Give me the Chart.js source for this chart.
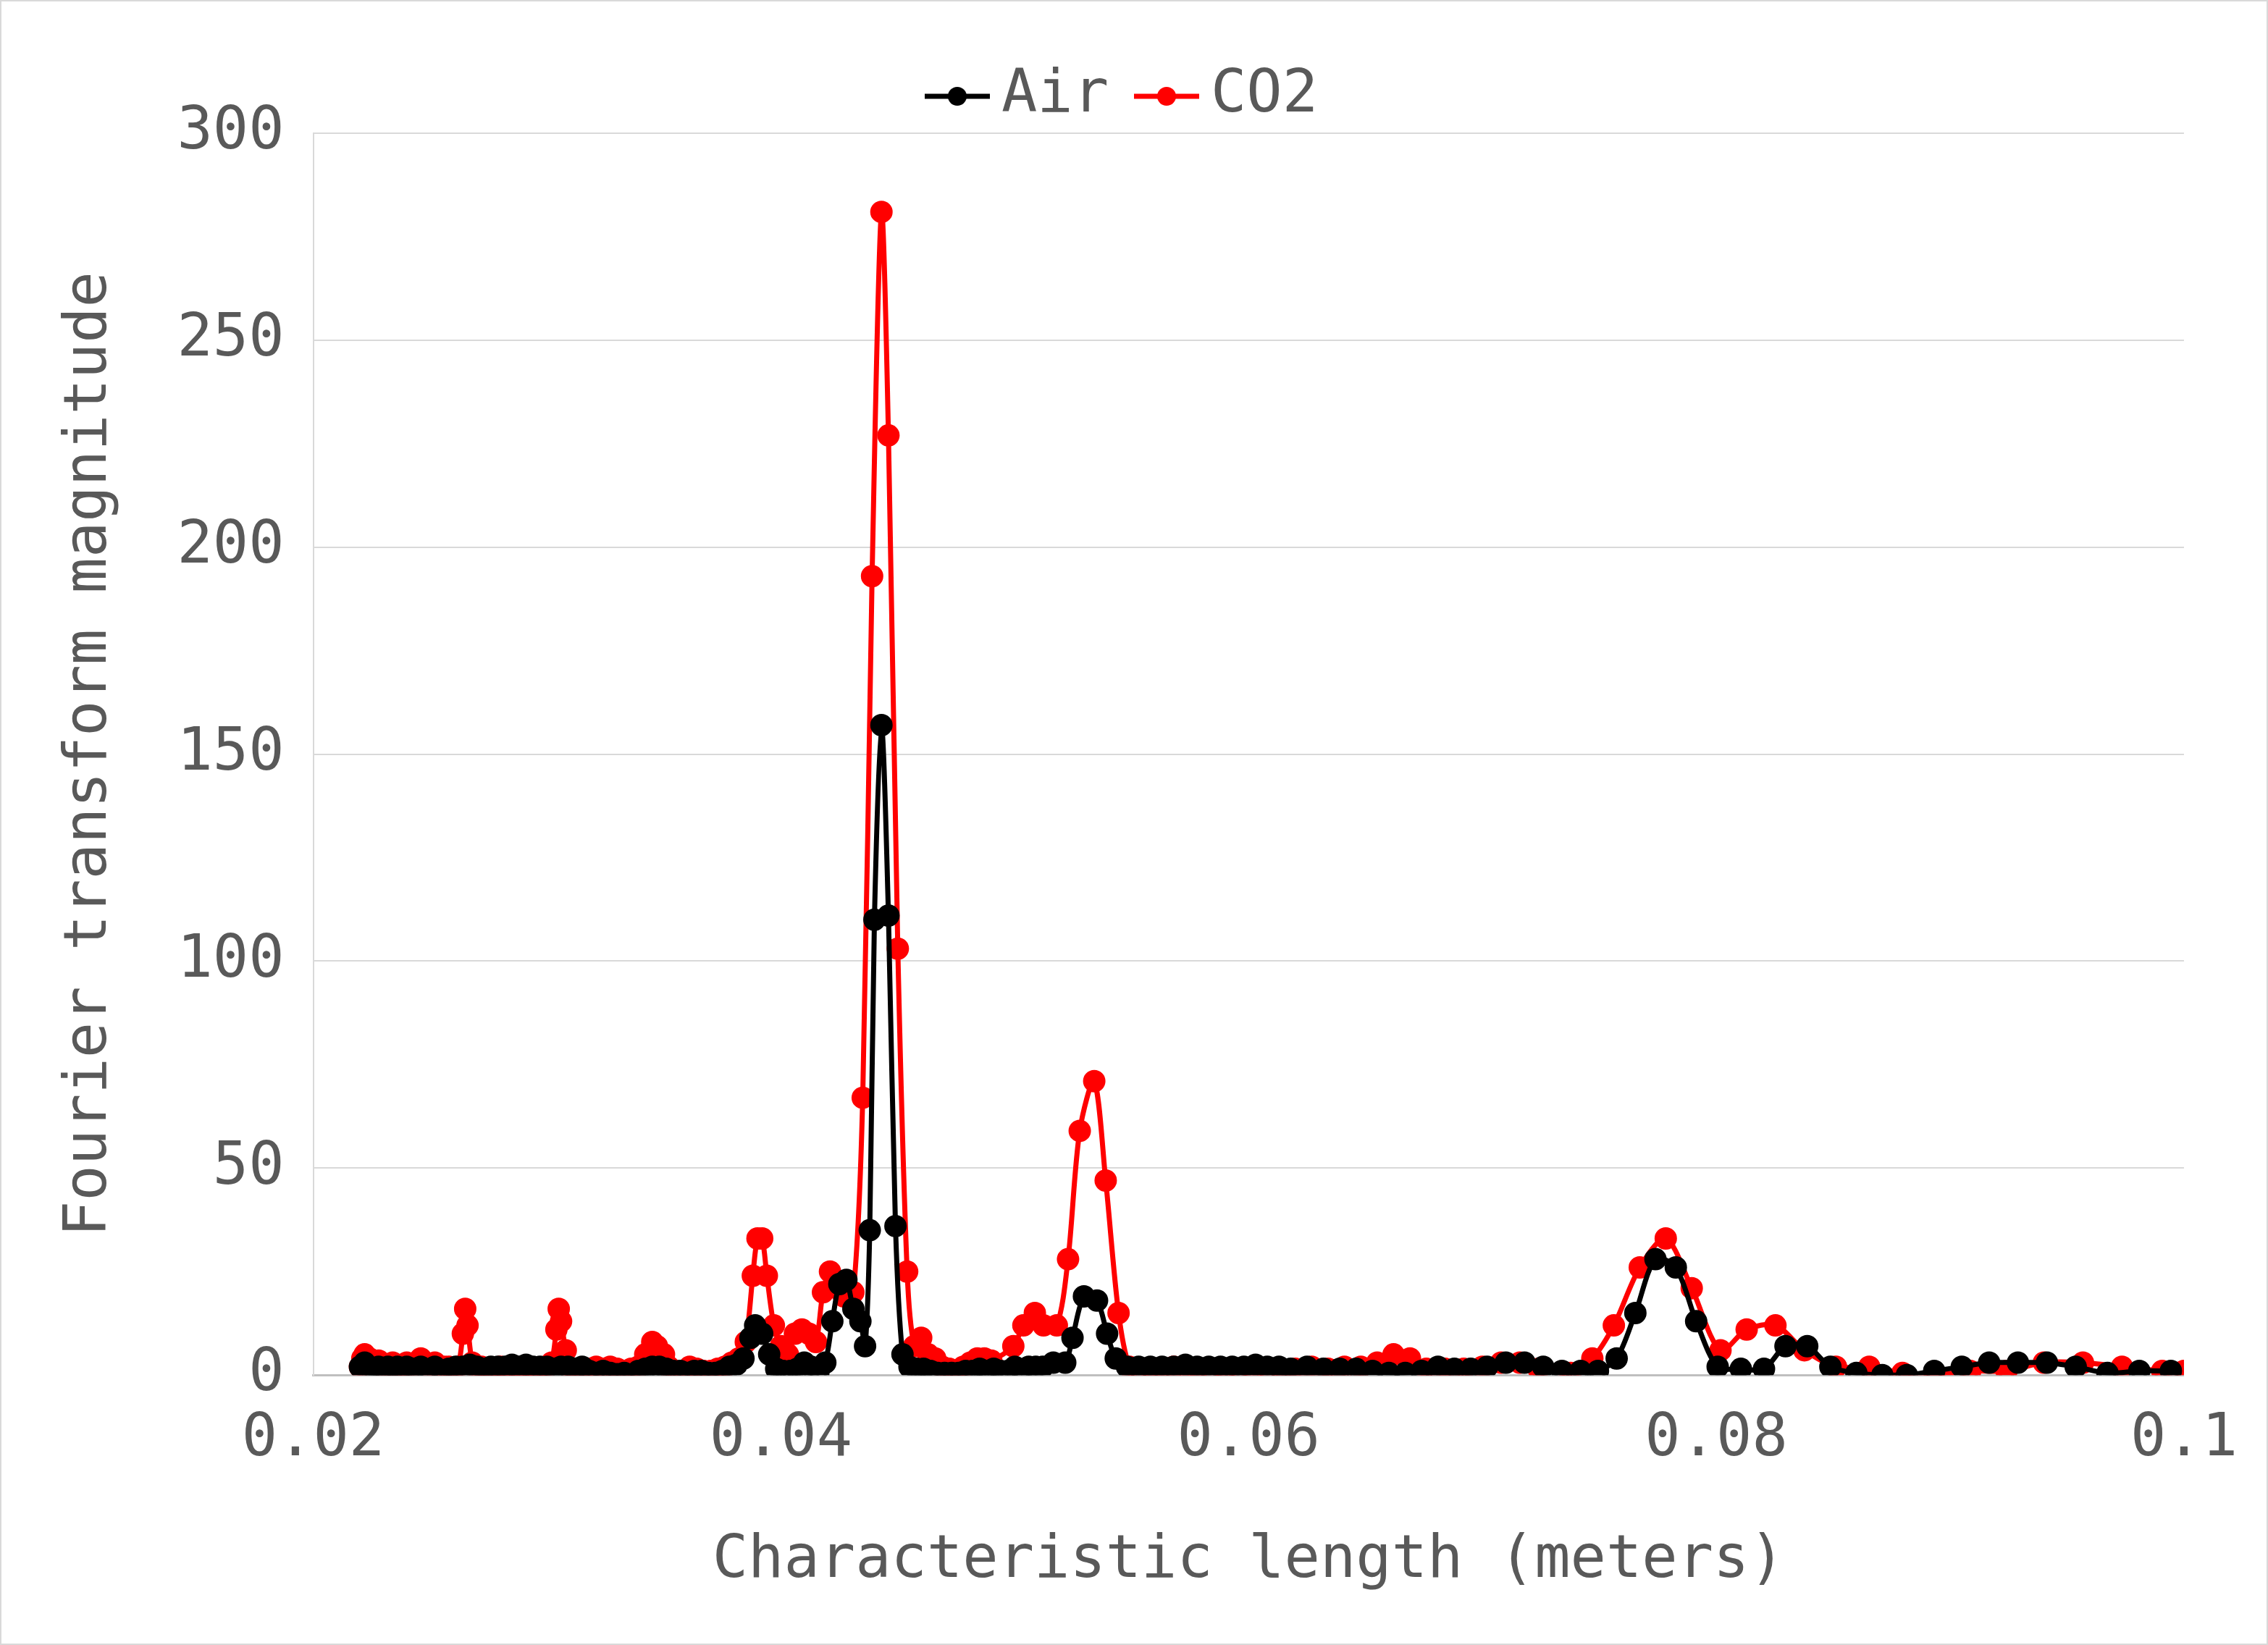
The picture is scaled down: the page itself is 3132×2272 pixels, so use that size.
<!DOCTYPE html>
<html><head><meta charset="utf-8">
<script src="https://cdn.jsdelivr.net/npm/chart.js@4/dist/chart.umd.min.js"></script>
<style>html,body{margin:0;padding:0;background:#fff}#w{width:3128px;height:2268px;border:2px solid #d9d9d9}</style>
</head><body><div id="w"><canvas id="c"></canvas></div>
<script>
const airX=[0.0220,0.0222,0.0224,0.0226,0.0228,0.0230,0.0232,0.0234,0.0236,0.0238,0.0240,0.0243,0.0246,0.0249,0.0252,0.0255,0.0258,0.0261,0.0264,0.0267,0.0270,0.0273,0.0276,0.0279,0.0282,0.0285,0.0288,0.0291,0.0294,0.0297,0.0300,0.0303,0.0306,0.0309,0.0312,0.0315,0.0318,0.0321,0.0324,0.0327,0.0330,0.0333,0.0336,0.0339,0.0342,0.0345,0.0348,0.0351,0.0354,0.0357,0.0360,0.0363,0.0366,0.0369,0.0372,0.0375,0.0378,0.0381,0.0384,0.0387,0.0389,0.0392,0.0395,0.0398,0.0401,0.0404,0.0407,0.0410,0.0413,0.0416,0.0419,0.0422,0.0425,0.0428,0.0431,0.0434,0.0436,0.0438,0.0440,0.0443,0.0446,0.0449,0.0452,0.0455,0.0458,0.0461,0.0464,0.0467,0.0470,0.0473,0.0476,0.0479,0.0482,0.0485,0.0488,0.0491,0.0494,0.0497,0.0500,0.0503,0.0506,0.0509,0.0512,0.05165,0.05216,0.05247,0.05296,0.05352,0.05395,0.05432,0.0548,0.0553,0.0558,0.0563,0.0568,0.0573,0.0578,0.0583,0.0588,0.0593,0.0598,0.0603,0.0608,0.0613,0.0618,0.0625,0.0632,0.0639,0.0646,0.0653,0.0660,0.0667,0.0674,0.0681,0.0688,0.0695,0.0702,0.0710,0.0718,0.0726,0.0734,0.0742,0.07494,0.07574,0.07654,0.0774,0.07827,0.07914,0.08006,0.08105,0.08204,0.08296,0.08389,0.08488,0.08599,0.0871,0.08815,0.08932,0.0905,0.09167,0.0929,0.09414,0.09537,0.09673,0.09809,0.09944];
const airY=[2,3,2,1.5,2,1,2,1.5,2,1,2,1.5,2,1,2,1,1.5,2,2,2.5,2,1.5,2,2,2,2.5,2,2.5,2,2,2,1.5,2,2,1.5,2,1,0.5,1,0.5,0.2,0.5,0,1,1.5,2,2,1.5,1,1,0.5,1,1,0.5,0.5,1,2,2.5,4,9,12,10,5,1.5,1,1,1.5,3,2,0.5,3,13,22,23,16,13,7,35,110,157,111,36,5,2,1.5,1.5,1,0.5,0.5,0.5,0.5,1,1,1.5,1,1.5,1,1,2,1,2,2,2,3,3,9,19,18,10,4,2,2,2,2,2,2.5,2,2,2,2,2,2.5,2,2,1.5,2,1.5,1.5,1.5,1,0.5,0.5,1,2,1.5,1.5,2,3,3,2,1,1,1,4,15,28,26,13,2,1.5,1.5,7,7,2,0.5,0,0,1,2,3,3,3,2,0.5,1,1];
const co2X=[0.0220,0.0221,0.0222,0.0224,0.0226,0.0228,0.0230,0.0232,0.0234,0.0236,0.0238,0.0240,0.0242,0.0244,0.0246,0.0248,0.0250,0.0252,0.0254,0.0256,0.0258,0.0260,0.0262,0.0264,0.0265,0.0266,0.0268,0.0270,0.0272,0.0274,0.0276,0.0278,0.0280,0.0282,0.0284,0.0286,0.0288,0.0290,0.0292,0.0294,0.0296,0.0298,0.0300,0.0302,0.0304,0.0305,0.0306,0.0308,0.0310,0.0312,0.0315,0.0318,0.0321,0.0324,0.0327,0.0330,0.0333,0.0336,0.0339,0.0342,0.0345,0.0347,0.0350,0.0352,0.0355,0.0358,0.0361,0.0364,0.0367,0.0370,0.0373,0.0376,0.0379,0.0382,0.0385,0.0388,0.0390,0.0392,0.0394,0.0397,0.0400,0.0403,0.0406,0.0409,0.0412,0.0415,0.0418,0.0421,0.0424,0.0427,0.0431,0.0435,0.0439,0.0443,0.0446,0.0450,0.0454,0.0457,0.0460,0.0463,0.0466,0.0469,0.0472,0.0475,0.0478,0.0481,0.0484,0.0487,0.0490,0.04994,0.05037,0.05086,0.05123,0.0518,0.05228,0.05278,0.0534,0.05389,0.05444,0.0549,0.0553,0.0558,0.0563,0.0568,0.0573,0.0578,0.0584,0.0590,0.0596,0.0602,0.0608,0.0614,0.0620,0.0627,0.0634,0.0641,0.0648,0.0655,0.0662,0.0669,0.0676,0.0684,0.0692,0.0700,0.0708,0.0716,0.0724,0.07377,0.0747,0.07562,0.07673,0.07784,0.07895,0.08018,0.0813,0.08253,0.08377,0.08512,0.08654,0.08796,0.08932,0.09086,0.09241,0.09401,0.09568,0.09735,0.09907,0.1];
const co2Y=[2,4,5,4,3,3.5,2,2.5,3,1.5,2,3,2,3,4,3,2,3,2,2,2,1.5,2,10,16,12,3,1.5,2,1.5,1,1.5,2,1.5,1,1.5,1,2,1.5,1,1,1.5,2,3,11,16,13,6,1.5,1,1,1.5,2,1.5,2,1.5,1,1.5,2,5,8,7,5,2,1,1,2,1.5,1,1,1.5,2,3,4,8,24,33,33,24,12,7,5,10,11,10,8,20,25,21,19,20,67,193,281,227,103,25,7,9,5,4,2,1.5,1,2,3,4,4,3.5,7,12,15,12,12,28,59,71,47,15,2,1,1.5,1.5,2,1.5,1.5,1,0,1,0.5,1,1.5,1.5,2,1.5,2,2,3,5,4,1.5,1.5,1.5,2,3,3,1.5,0.5,4,12,26,33,21,6,11,12,6,2,2,0.5,0,1,1,3,3,2,1,1];
const xTicks=[0.02,0.04,0.06,0.08,0.1];
const toPts=(xs,ys)=>xs.map((x,i)=>({x:x,y:ys[i]}));
const F='"DejaVu Sans Mono", monospace';
const G='#595959';
function legIcon(col){const c=document.createElement('canvas');c.width=90;c.height=30;const g=c.getContext('2d');g.strokeStyle=col;g.lineWidth=7;g.beginPath();g.moveTo(0,15);g.lineTo(90,15);g.stroke();g.fillStyle=col;g.beginPath();g.arc(45,15,13,0,Math.PI*2);g.fill();return c;}
new Chart(document.getElementById('c'),{
 type:'line',
 data:{datasets:[
  {label:'Air',data:toPts(airX,airY),borderColor:'#000',backgroundColor:'#000',borderWidth:7,pointRadius:12,pointHoverRadius:12,tension:0.3},
  {label:'CO2',data:toPts(co2X,co2Y),borderColor:'#ff0000',backgroundColor:'#ff0000',borderWidth:7,pointRadius:12,pointHoverRadius:12,tension:0.3}
 ]},
 options:{responsive:true,maintainAspectRatio:false,animation:false,
  layout:{padding:{left:70,right:80,top:30,bottom:60}},
  plugins:{legend:{position:'top',labels:{font:{family:F,size:82},color:G,usePointStyle:true,padding:60,
     generateLabels:ch=>ch.data.datasets.map((d,i)=>({text:d.label,fillStyle:d.borderColor,strokeStyle:d.borderColor,pointStyle:legIcon(d.borderColor),datasetIndex:i,fontColor:G}))}},tooltip:{enabled:false}},
  scales:{
   x:{type:'linear',min:0.02,max:0.1,afterBuildTicks:a=>{a.ticks=xTicks.map(v=>({value:v}));},
      grid:{display:false,drawTicks:false},border:{color:'#bfbfbf',width:3},
      ticks:{font:{family:F,size:82},color:G,padding:40,callback:v=>String(Math.round(v*100)/100)},
      title:{display:true,text:'Characteristic length (meters)',font:{family:F,size:82},color:G,padding:{top:30}}},
   y:{min:0,max:300,ticks:{stepSize:50,font:{family:F,size:82},color:G,padding:40},
      grid:{color:'#d9d9d9',lineWidth:2,drawTicks:false},border:{color:'#d9d9d9',width:2},
      title:{display:true,text:'Fourier transform magnitude',font:{family:F,size:82},color:G,padding:{bottom:30}}}
  }}
});
</script></body></html>
